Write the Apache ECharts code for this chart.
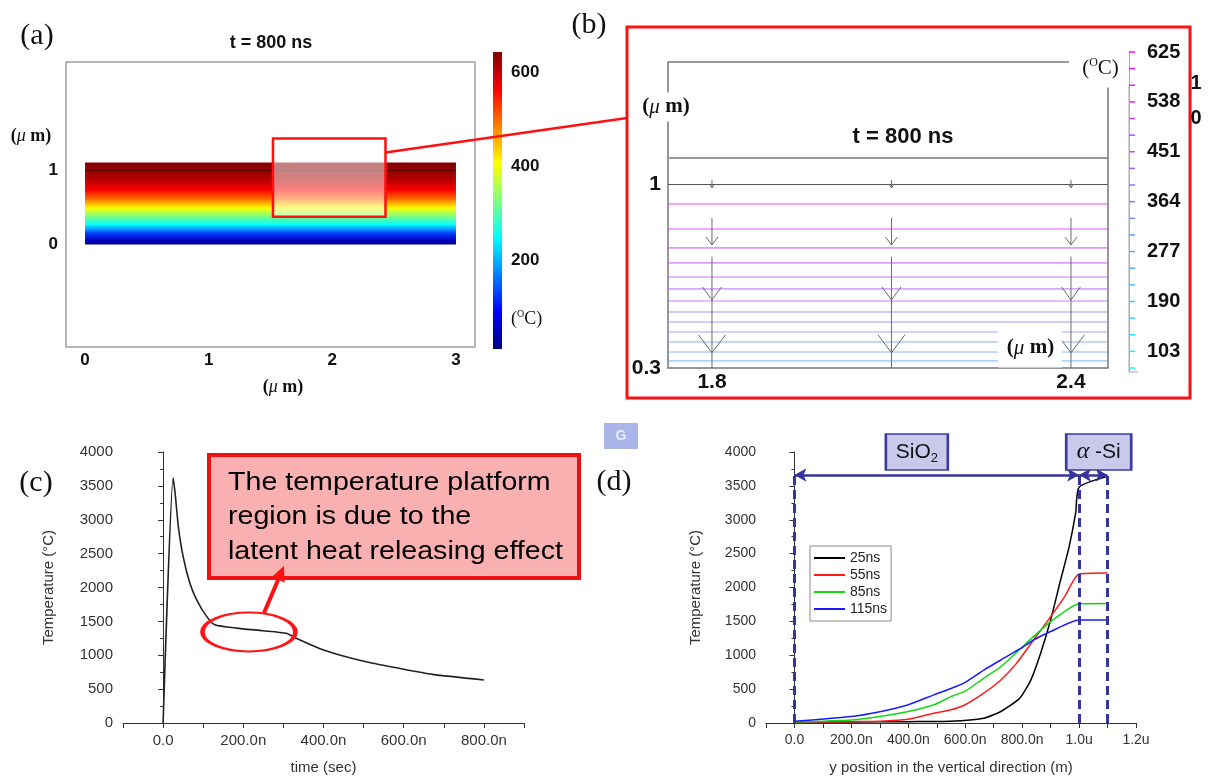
<!DOCTYPE html>
<html><head><meta charset="utf-8">
<script src="https://cdn.jsdelivr.net/npm/echarts@6/dist/echarts.min.js"></script>
<style>html,body{margin:0;padding:0;background:#fff}#c{width:1208px;height:779px}</style>
</head><body><div id="c"></div>
<script>
// ================= DATA =================
// (a) temperature profile across depth at t = 800 ns (um -> degC)
const aDepth = [0, 0.05, 0.15, 0.26, 0.37, 0.49, 0.60, 0.73, 0.87, 1.0, 1.1];
const aTemp  = [20, 50, 130, 247, 320, 406, 490, 564, 610, 630, 643];
const aWidth = [0, 3];            // lateral extent of the sample (um)
const aBarRange = [10, 643];      // colour bar range (degC)
const aXTicks = [0, 1, 2, 3];
const aYTicks = [0, 1];
const aBarTicks = [200, 400, 600];
const aZoomX = [1.52, 2.43];
const aZoomY = [0.37, 1.43];
// (b) isotherms in the zoomed window
const bLevel = [596, 567, 538, 509, 480, 451, 422, 393, 364, 335, 306, 277, 248];
const bLineY = [0.924, 0.829, 0.757, 0.700, 0.646, 0.601, 0.555, 0.513, 0.475, 0.437, 0.399, 0.361, 0.327];
const bInterfaceY = [1.1, 1.0];
const bBarLevels = [625, 596, 567, 538, 509, 480, 451, 422, 393, 364, 335, 306, 277, 248, 219, 190, 161, 132, 103, 74];
const bBarLabels = [103, 190, 277, 364, 451, 538, 625];
const bXTicks = [1.8, 2.4];
const bYTicks = [0.3, 1];
const bArrowX = [1.8, 2.1, 2.4];
const bArrowSmall = [1.015, 0.985];
const bArrowMid = [0.871, 0.768];
const bArrowBig = [0.7235, 0.3];
const bArrowHeads = [0.559, 0.358];
// (c) temperature vs time
const cTime = [0, 25, 30, 38, 50, 67, 84, 109, 129, 183, 249, 307, 332, 390, 440, 506, 589, 672, 800];
const cTemp = [0, 3620, 3390, 2900, 2455, 2060, 1815, 1570, 1450, 1400, 1362, 1325, 1250, 1100, 1005, 905, 807, 718, 635];
const cEllipse = [214, 1343];
// (d) temperature vs vertical position (nm)
const d25Pos  = [0, 200, 400, 550, 665, 725, 790, 830, 865, 900, 935, 965, 988, 1000, 1100];
const d25Temp = [15, 15, 20, 25, 70, 170, 360, 630, 1030, 1520, 2110, 2600, 3100, 3480, 3640];
const d55Pos  = [0, 200, 300, 400, 490, 550, 600, 665, 725, 780, 840, 900, 950, 1000, 1100];
const d55Temp = [15, 20, 25, 55, 145, 195, 270, 440, 635, 880, 1225, 1570, 1870, 2200, 2215];
const d85Pos  = [0, 200, 300, 400, 490, 550, 600, 665, 725, 795, 840, 900, 1000, 1100];
const d85Temp = [15, 45, 95, 170, 270, 390, 470, 660, 830, 1100, 1275, 1495, 1760, 1765];
const d115Pos  = [0, 200, 300, 400, 490, 550, 600, 665, 725, 795, 840, 900, 1000, 1100];
const d115Temp = [25, 95, 165, 270, 415, 510, 600, 780, 930, 1100, 1225, 1350, 1520, 1520];
const dNames = ['25ns', '55ns', '85ns', '115ns'];
const dLayers = [0, 1000, 1100];
const dLayerTop = 3660;
const dSiO2Box = [430, 4000];
const dASiBox = [1069, 4000];

// ================= STYLE HELPERS =================
const SANS = '"Liberation Sans", Arial, sans-serif';
const SERIF = '"Liberation Serif", "Times New Roman", serif';
function jet(t) {
  const s = [[0,0,0.5],[0,0,1],[0,0.5,1],[0,1,1],[0.5,1,0.5],[1,1,0],[1,0.5,0],[1,0,0],[0.5,0,0]];
  t = Math.max(0, Math.min(1, t)) * 8;
  const i = Math.min(7, Math.floor(t)), f = t - i, a = s[i], b = s[i + 1];
  return 'rgb(' + a.map((v, k) => Math.round(255 * (v + (b[k] - v) * f))).join(',') + ')';
}
const zip = (xs, ys) => xs.map((x, i) => [x, ys[i]]);
const nfmt = v => v === 0 ? '0.0' : (v >= 1000 ? (v / 1000).toFixed(1) + 'u' : v.toFixed(1) + 'n');
const hidden = (g) => ({type: 'value', gridIndex: g, show: false, min: 0, max: 1});
const plotAxisX = (g, min, max) => ({
  type: 'value', gridIndex: g, min, max, interval: 100,
  axisLine: {lineStyle: {color: '#333', width: 1}},
  axisTick: {show: true, length: 5, inside: false, lineStyle: {color: '#333'}},
  splitLine: {show: false},
  axisLabel: {color: '#333', fontFamily: SANS, fontSize: g === 4 ? 15 : 14, margin: 10,
    formatter: v => (v >= 0 && v % 200 === 0 && v <= (g === 4 ? 800 : 1200)) ? nfmt(v) : ''}
});
const plotAxisY = (g, gap) => ({
  type: 'value', gridIndex: g, min: 0, max: 4000, interval: 500,
  name: 'Temperature (°C)', nameLocation: 'middle', nameGap: gap, nameRotate: 90,
  nameTextStyle: {fontFamily: SANS, fontSize: 15, color: '#333'},
  axisLine: {show: true, lineStyle: {color: '#333', width: 1}},
  axisTick: {show: true, length: 5, lineStyle: {color: '#333'}},
  minorTick: {show: true, splitNumber: 2, length: 3, lineStyle: {color: '#333'}},
  splitLine: {show: false},
  axisLabel: {color: '#333', fontFamily: SANS, fontSize: g === 4 ? 15 : 14, margin: 10, formatter: v => String(v)}
});

const chart = echarts.init(document.getElementById('c'));

const option = {
  animation: false,
  backgroundColor: '#fff',
  grid: [
    {left: 66, top: 62, width: 409, height: 285, show: true, borderColor: '#a0a0a0', borderWidth: 1.5, backgroundColor: 'transparent'},
    {left: 493, top: 52, width: 9, height: 297},
    {left: 668, top: 62, width: 440, height: 306},
    {left: 1129, top: 52, width: 9, height: 320},
    {left: 123, top: 452, width: 401, height: 271},
    {left: 766, top: 452, width: 370, height: 271}
  ],
  xAxis: [
    {type: 'value', gridIndex: 0, min: -0.154, max: 3.154, axisLine: {show: false}, axisTick: {show: false}, splitLine: {show: false},
      axisLabel: {customValues: aXTicks, fontFamily: SANS, fontWeight: 'bold', fontSize: 17, color: '#111', margin: 5}},
    hidden(1),
    {type: 'value', gridIndex: 2, min: 1.7265, max: 2.4619, axisLine: {show: true, lineStyle: {color: '#777', width: 1.5}}, axisTick: {show: false}, splitLine: {show: false},
      axisLabel: {customValues: bXTicks, fontFamily: SANS, fontWeight: 'bold', fontSize: 21, color: '#111', margin: 4}},
    hidden(3),
    Object.assign(plotAxisX(4, -100, 900), {name: 'time (sec)', nameLocation: 'middle', nameGap: 37, nameTextStyle: {fontFamily: SANS, fontSize: 15, color: '#333'}}),
    Object.assign(plotAxisX(5, -100, 1200), {name: 'y position in the vertical direction (m)', nameLocation: 'middle', nameGap: 37, nameTextStyle: {fontFamily: SANS, fontSize: 15, color: '#333'}})
  ],
  yAxis: [
    {type: 'value', gridIndex: 0, min: -1.4, max: 2.47, axisLine: {show: false}, axisTick: {show: false}, splitLine: {show: false},
      axisLabel: {customValues: aYTicks, fontFamily: SANS, fontWeight: 'bold', fontSize: 17, color: '#111', margin: 8}},
    {type: 'value', gridIndex: 1, min: aBarRange[0], max: aBarRange[1], position: 'right', axisLine: {show: false}, splitLine: {show: false},
      axisTick: {show: false},
      axisLabel: {customValues: aBarTicks, fontFamily: SANS, fontWeight: 'bold', fontSize: 17, color: '#111', margin: 9}},
    {type: 'value', gridIndex: 2, min: 0.3, max: 1.464, axisLine: {show: true, lineStyle: {color: '#777', width: 1.5}}, axisTick: {show: false}, splitLine: {show: false},
      axisLabel: {customValues: bYTicks, fontFamily: SANS, fontWeight: 'bold', fontSize: 21, color: '#111', margin: 7}},
    {type: 'value', gridIndex: 3, min: 67, max: 625, position: 'right', axisLine: {show: true, lineStyle: {color: '#aaa', width: 1}}, axisTick: {show: false}, splitLine: {show: false},
      axisLabel: {customValues: bBarLabels, fontFamily: SANS, fontWeight: 'bold', fontSize: 20, color: '#111', margin: 9}},
    plotAxisY(4, 67),
    plotAxisY(5, 63)
  ],
  visualMap: [{type: 'continuous', show: false, min: 74, max: 625, dimension: 0, seriesIndex: [2, 3], inRange: {color: ['#00ffff', '#ff00ff']}}],
  legend: {
    data: dNames, orient: 'vertical', left: 810, top: 546, icon: 'rect', itemWidth: 31, itemHeight: 2, itemGap: 3,
    padding: [5, 4, 5, 4], borderColor: '#8a8a8a', borderWidth: 1, selectedMode: false,
    textStyle: {fontFamily: SANS, fontSize: 14, color: '#222', lineHeight: 13.5}
  },
  series: [
    // 0: (a) heat map strips
    {type: 'custom', xAxisIndex: 0, yAxisIndex: 0, z: 2, silent: true,
      data: aDepth.slice(1).map((d, i) => [aDepth[i], d, aTemp[i], aTemp[i + 1]]),
      encode: {x: 2, y: [0, 1]},
      renderItem(params, api) {
        const y0 = api.value(0), y1 = api.value(1), t0 = api.value(2), t1 = api.value(3);
        const tl = api.coord([aWidth[0], y1]), br = api.coord([aWidth[1], y0]);
        const lo = aBarRange[0], hi = aBarRange[1];
        return {type: 'rect', shape: {x: tl[0], y: tl[1] - 0.5, width: br[0] - tl[0], height: br[1] - tl[1] + 1},
          style: {fill: new echarts.graphic.LinearGradient(0, 0, 0, 1, [
            {offset: 0, color: jet((t1 - lo) / (hi - lo))}, {offset: 1, color: jet((t0 - lo) / (hi - lo))}])}};
      },
      markLine: {silent: true, symbol: 'none', label: {show: false}, lineStyle: {color: 'rgba(50,0,0,0.55)', width: 1, type: 'solid'},
        data: [[{coord: [aWidth[0], 1]}, {coord: [aWidth[1], 1]}]]}
    },
    // 1: (a) zoom window
    {type: 'custom', xAxisIndex: 0, yAxisIndex: 0, z: 5, silent: true,
      data: [[aZoomX[0], aZoomY[0], aZoomX[1], aZoomY[1]]],
      renderItem(params, api) {
        const tl = api.coord([api.value(0), api.value(3)]), br = api.coord([api.value(2), api.value(1)]);
        return {type: 'rect', shape: {x: tl[0], y: tl[1], width: br[0] - tl[0], height: br[1] - tl[1]},
          style: {fill: 'rgba(255,255,255,0.5)', stroke: '#ff1010', lineWidth: 2.5}};
      }
    },
    // 2: (b) isotherms
    {type: 'custom', xAxisIndex: 2, yAxisIndex: 2, z: 2, silent: true,
      data: zip(bLevel, bLineY), encode: {x: 0, y: 1},
      renderItem(params, api) {
        const cs = params.coordSys, p = api.coord([bXTicks[0], api.value(1)]);
        return {type: 'line', shape: {x1: cs.x, y1: p[1], x2: cs.x + cs.width, y2: p[1]},
          style: {stroke: api.visual('color'), lineWidth: 1.6, opacity: 0.5}};
      },
      markLine: {silent: true, symbol: 'none', label: {show: false},
        data: [
          {yAxis: bInterfaceY[0], lineStyle: {color: '#999', width: 2, type: 'solid'}},
          {yAxis: bInterfaceY[1], lineStyle: {color: '#555', width: 1, type: 'solid'}}
        ]}
    },
    // 3: (b) colour-bar ticks
    {type: 'custom', xAxisIndex: 3, yAxisIndex: 3, z: 3, silent: true,
      data: bBarLevels.map(l => [l, l]), encode: {x: 0, y: 1},
      renderItem(params, api) {
        const cs = params.coordSys, p = api.coord([0, api.value(1)]);
        return {type: 'line', shape: {x1: cs.x, y1: p[1], x2: cs.x + 6, y2: p[1]},
          style: {stroke: api.visual('color'), lineWidth: 1.5}};
      }
    },
    // 4: (c) curve
    {type: 'line', xAxisIndex: 4, yAxisIndex: 4, data: zip(cTime, cTemp), showSymbol: false, smooth: 0.2,
      lineStyle: {color: '#222', width: 1.6}, itemStyle: {color: '#222'}, silent: true,
      markPoint: {silent: true, symbol: 'circle', symbolSize: [93, 39], label: {show: false},
        itemStyle: {color: 'rgba(0,0,0,0)', borderColor: '#ff1515', borderWidth: 3},
        data: [{coord: cEllipse}]}
    },
    // 5-8: (d) curves
    {name: dNames[0], type: 'line', xAxisIndex: 5, yAxisIndex: 5, data: zip(d25Pos, d25Temp), showSymbol: false, smooth: 0.2,
      lineStyle: {color: '#000', width: 1.5}, itemStyle: {color: '#000'}, silent: true,
      markLine: {silent: true, symbol: 'none', label: {show: false}, lineStyle: {color: '#34349c', width: 3, type: [9, 5]},
        data: dLayers.map(x => [{coord: [x, 0]}, {coord: [x, dLayerTop]}]).concat([
          [{coord: [dLayers[0], dLayerTop], symbol: 'arrow', symbolSize: [10, 12]}, {coord: [dLayers[1], dLayerTop], symbol: 'arrow', symbolSize: [10, 12], lineStyle: {type: 'solid', width: 2.5}}],
          [{coord: [dLayers[1], dLayerTop], symbol: 'arrow', symbolSize: [10, 12]}, {coord: [dLayers[2], dLayerTop], symbol: 'arrow', symbolSize: [10, 12], lineStyle: {type: 'solid', width: 2.5}}]
        ])},
      markPoint: {silent: true, symbol: 'rect', itemStyle: {color: '#c9c9ec', borderColor: '#3a3aa0', borderWidth: 2},
        label: {show: true, position: 'inside', color: '#111'},
        data: [
          {coord: dSiO2Box, symbolSize: [62, 36], label: {formatter: '{a|SiO}{s|2}', rich: {
            a: {fontFamily: SANS, fontSize: 21, lineHeight: 26, color: '#111'},
            s: {fontFamily: SANS, fontSize: 13, lineHeight: 13, verticalAlign: 'bottom', color: '#111'}}}},
          {coord: dASiBox, symbolSize: [65, 36], label: {formatter: '{g|α}{a| -Si}', rich: {
            g: {fontFamily: SERIF, fontStyle: 'italic', fontSize: 24, color: '#111'},
            a: {fontFamily: SANS, fontSize: 21, color: '#111'}}}}
        ]}
    },
    {name: dNames[1], type: 'line', xAxisIndex: 5, yAxisIndex: 5, data: zip(d55Pos, d55Temp), showSymbol: false, smooth: 0.2,
      lineStyle: {color: '#ff1a1a', width: 1.5}, itemStyle: {color: '#ff1a1a'}, silent: true},
    {name: dNames[2], type: 'line', xAxisIndex: 5, yAxisIndex: 5, data: zip(d85Pos, d85Temp), showSymbol: false, smooth: 0.2,
      lineStyle: {color: '#10d810', width: 1.5}, itemStyle: {color: '#10d810'}, silent: true},
    {name: dNames[3], type: 'line', xAxisIndex: 5, yAxisIndex: 5, data: zip(d115Pos, d115Temp), showSymbol: false, smooth: 0.2,
      lineStyle: {color: '#1a1aff', width: 1.5}, itemStyle: {color: '#1a1aff'}, silent: true}
  ]
};
chart.setOption(option);

// ================= ANNOTATIONS =================
const P = (g, v) => chart.convertToPixel({gridIndex: g}, v);
const G = [];
function txt(x, y, text, o) {
  o = o || {};
  const st = Object.assign({text, x: 0, y: 0, fill: '#111', font: o.font || ('bold 17px ' + SANS),
    align: o.align || 'center', verticalAlign: 'middle', textAlign: o.align || 'center', textVerticalAlign: 'middle'}, o.style || {});
  G.push({type: 'text', x, y, z: o.z || 100, silent: true, style: st});
}
function line(x1, y1, x2, y2, stroke, w, z) {
  G.push({type: 'line', silent: true, z: z || 50, shape: {x1, y1, x2, y2}, style: {stroke, lineWidth: w}});
}
function poly(points, stroke, w, fill, z) {
  G.push({type: fill ? 'polygon' : 'polyline', silent: true, z: z || 50, shape: {points},
    style: fill ? {fill, stroke: fill, lineWidth: 0} : {stroke, lineWidth: w, fill: null}});
}
const mu = (size) => ({
  p: {fontFamily: SERIF, fontWeight: 'bold', fontSize: size, fill: '#111', color: '#111'},
  m: {fontFamily: SERIF, fontStyle: 'italic', fontSize: size, fill: '#111', color: '#111'}
});
const degC = (size) => ({
  p: {fontFamily: SERIF, fontSize: size, fill: '#111', color: '#111', lineHeight: size + 2},
  s: {fontFamily: SERIF, fontSize: Math.round(size * 0.55), fill: '#111', color: '#111', verticalAlign: 'top', lineHeight: Math.round(size * 0.55)}
});
function rich(x, y, str, r, extra) {
  G.push({type: 'text', x, y, z: 100, silent: true, style: Object.assign({text: str, rich: r,
    align: 'center', verticalAlign: 'middle', textAlign: 'center', textVerticalAlign: 'middle'}, extra || {})});
}

// faint background watermark fragment (light blue)
G.push({type: 'rect', silent: true, z: 0, shape: {x: 604, y: 423, width: 34, height: 26}, style: {fill: '#aab6ea'}});
txt(621, 436, 'G', {font: 'bold 14px ' + SANS, z: 1, style: {fill: '#e6eaf8'}});

// panel letters
txt(37, 36, '(a)', {font: '30px ' + SERIF});
txt(589, 25, '(b)', {font: '30px ' + SERIF});
txt(36, 483, '(c)', {font: '30px ' + SERIF});
txt(614, 482, '(d)', {font: '30px ' + SERIF});

// (a)
txt(271, 43, 't = 800 ns', {font: 'bold 18px ' + SANS});
rich(31, 136, '{p|(}{m|μ}{p| m)}', mu(18));
rich(283, 387, '{p|(}{m|μ}{p| m)}', mu(18));
const cbTop = P(1, [0, aBarRange[1]]), cbBot = P(1, [1, aBarRange[0]]);
G.push({type: 'rect', silent: true, z: 1, shape: {x: cbTop[0], y: cbTop[1], width: cbBot[0] - cbTop[0], height: cbBot[1] - cbTop[1]},
  style: {fill: new echarts.graphic.LinearGradient(0, 0, 0, 1, [0, 1, 2, 3, 4, 5, 6, 7, 8].map(i => ({offset: i / 8, color: jet(1 - i / 8)})))}});
G.push({type: 'text', x: 511, y: 319, z: 100, silent: true, style: {text: '{p|(}{s|O}{p|C)}', rich: degC(18),
  align: 'left', verticalAlign: 'middle', textAlign: 'left', textVerticalAlign: 'middle'}});

// connector from zoom window to panel (b)
const zr = P(0, [aZoomX[1], aZoomY[1]]);
line(zr[0], zr[1] + 14, 627, 118, '#ff1010', 2.5, 40);

// (b) frame
G.push({type: 'rect', silent: true, z: 60, shape: {x: 627, y: 27, width: 563, height: 371}, style: {fill: null, stroke: '#ff1010', lineWidth: 3}});
const bTL = P(2, [1.7265, 1.464]), bBR = P(2, [2.4619, 0.3]);
line(bTL[0], bTL[1], 1069, bTL[1], '#777', 1.5, 10);
line(bBR[0], 85, bBR[0], bBR[1], '#777', 1.5, 10);
txt(903, 137, 't = 800 ns', {font: 'bold 22px ' + SANS});
rich(666, 107, '{p|(}{m|μ}{p| m)}', mu(21), {backgroundColor: '#fff', padding: [4, 2, 4, 2]});
rich(1030, 348, '{p|(}{m|μ}{p| m)}', mu(21), {backgroundColor: '#fff', padding: [9, 8, 9, 9]});
rich(1098, 68, '{p|(}{s|O}{p|C)}', degC(21), {backgroundColor: '#fff', padding: [8, 4, 8, 9]});
txt(1196, 83, '1', {font: 'bold 20px ' + SANS});
txt(1196, 118, '0', {font: 'bold 20px ' + SANS});
// (b) colour-bar left edge
const cbb1 = P(3, [0, 567]), cbb2 = P(3, [0, 67]);
line(cbb1[0], cbb1[1], cbb2[0], cbb2[1], '#aaa', 1, 20);
line(cbb2[0], cbb2[1], cbb2[0] + 9, cbb2[1], '#aaa', 1, 20);
// (b) heat-flux arrows
const AC = '#6a6a6a';
function vHead(x, ty, hw, len) { poly([[x - hw, ty - len], [x, ty], [x + hw, ty - len]], AC, 1, null, 50); }
bArrowX.forEach(xv => {
  const s0 = P(2, [xv, bArrowSmall[0]]), s1 = P(2, [xv, bArrowSmall[1]]);
  line(s0[0], s0[1], s1[0], s1[1], AC, 1, 50); vHead(s1[0], s1[1], 2.5, 4);
  const m0 = P(2, [xv, bArrowMid[0]]), m1 = P(2, [xv, bArrowMid[1]]);
  line(m0[0], m0[1], m1[0], m1[1], AC, 1, 50); vHead(m1[0], m1[1], 6, 8);
  const g0 = P(2, [xv, bArrowBig[0]]), g1 = P(2, [xv, bArrowBig[1]]);
  line(g0[0], g0[1], g1[0], g1[1], AC, 1, 50);
  const h0 = P(2, [xv, bArrowHeads[0]]), h1 = P(2, [xv, bArrowHeads[1]]);
  vHead(h0[0], h0[1], 9.5, 13); vHead(h1[0], h1[1], 13.5, 18);
});

// (c) callout box and arrow
G.push({type: 'rect', silent: true, z: 60, shape: {x: 209, y: 455, width: 370, height: 123}, style: {fill: '#f9b0b0', stroke: '#ee1111', lineWidth: 4}});
G.push({type: 'text', silent: true, z: 61, x: 228, y: 517, scaleX: 1.1, style: {text: 'The temperature platform\nregion is due to the\nlatent heat releasing effect',
  font: '26px ' + SANS, fill: '#000', lineHeight: 34.5, align: 'left', verticalAlign: 'middle', textAlign: 'left', textVerticalAlign: 'middle'}});
(function () {
  const a = [264, 613], b = [284, 566];
  const dx = b[0] - a[0], dy = b[1] - a[1], L = Math.hypot(dx, dy), ux = dx / L, uy = dy / L;
  const bx = b[0] - ux * 15, by = b[1] - uy * 15;
  line(a[0], a[1], bx, by, '#ff1010', 4, 62);
  poly([[b[0], b[1]], [bx - uy * 7, by + ux * 7], [bx + uy * 7, by - ux * 7]], null, 0, '#ff1010', 62);
})();

chart.setOption({graphic: {elements: G}});
</script></body></html>
